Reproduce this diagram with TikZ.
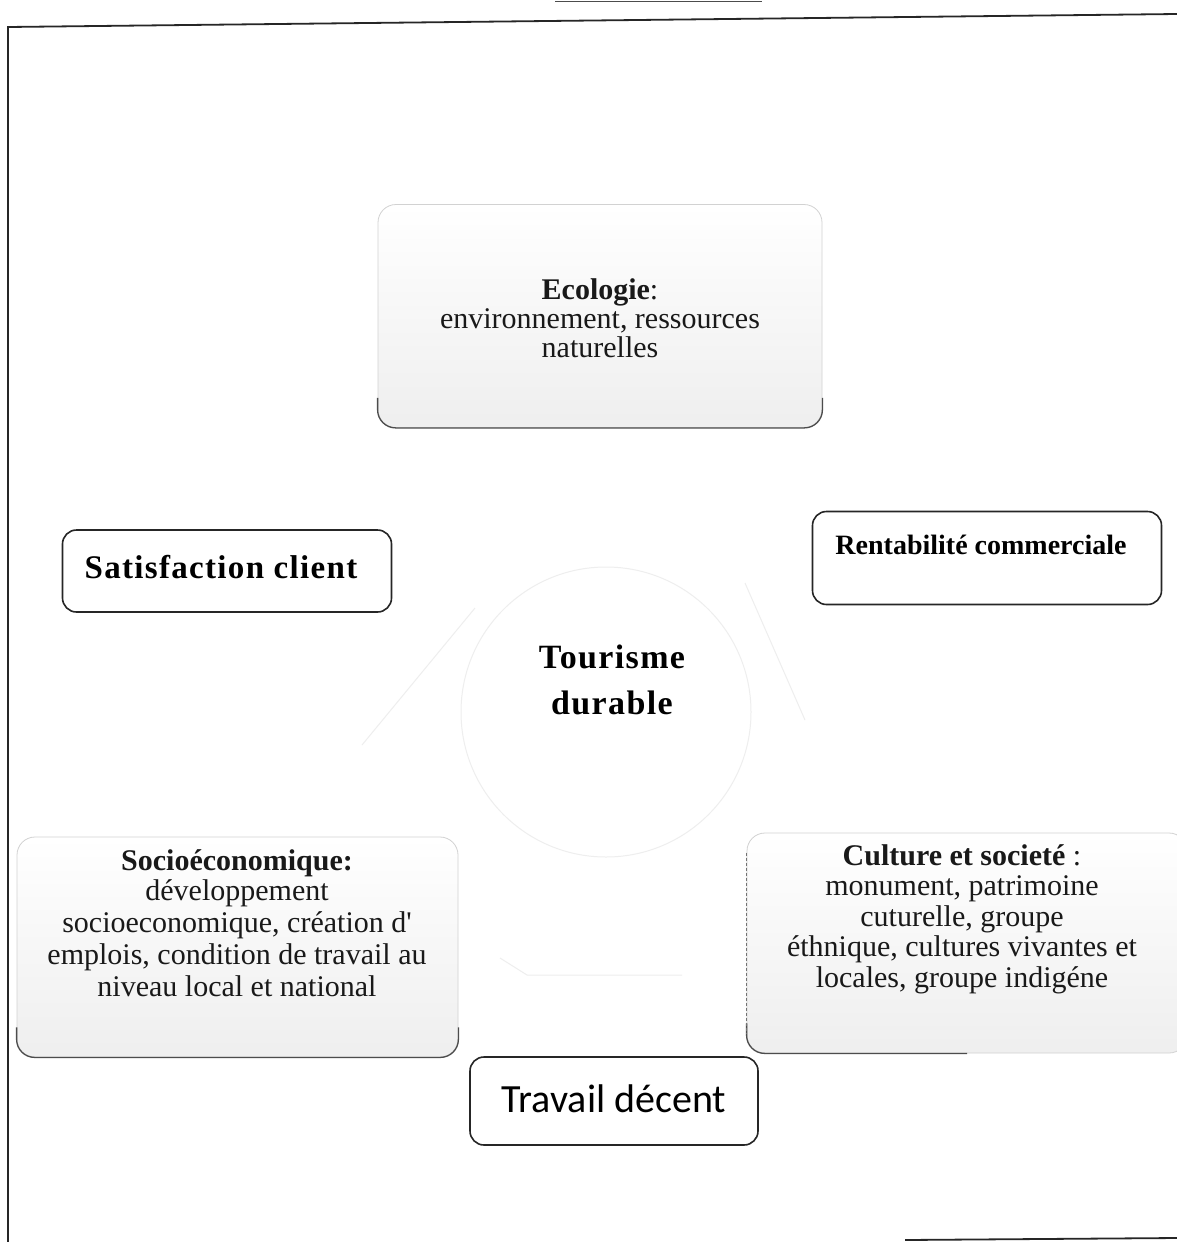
\documentclass[tikz,border=0pt]{standalone}
\usepackage{fontspec}
\setmainfont{Liberation Serif}[Ligatures=TeXOff]
\newfontfamily\calib{Carlito}
\begin{document}
\begin{tikzpicture}[x=1pt,y=-1pt,
  softbox/.style={rounded corners=18pt, draw=gray!35, line width=0.8pt, top color=white, bottom color=gray!13, inner sep=0pt},
  linebox/.style={rounded corners=14pt, draw=black!85, line width=1.6pt, fill=white, inner sep=0pt},
  darkedge/.style={draw=black!70, line width=1.3pt, rounded corners=18pt},
  faint/.style={draw=gray!13, line width=1pt},
  frame/.style={draw=black!85, line width=1.8pt},
  bodytxt/.style={align=center, font=\fontsize{30}{32}\selectfont, text=black!90, inner sep=0pt}]
\useasboundingbox (0,0) rectangle (1177,1242);
\fill[white] (0,0) rectangle (1177,1242);

% page frame
\coordinate (ftl) at (8,27);
\coordinate (ftr) at (1177,14);
\coordinate (fbl) at (8,1242);
\coordinate (fb1) at (905,1240);
\coordinate (fb2) at (1177,1238);
\coordinate (td1) at (555,1);
\coordinate (td2) at (762,1);
\draw[frame] (fbl) -- (ftl) -- (ftr);
\draw[frame] (fb1) -- (fb2);
\draw[draw=black!70, line width=1pt] (td1) -- (td2);

% faint ghost shapes
\node[circle, faint, minimum size=290] (ring) at (606,712) {};
\coordinate (g1) at (475,608);
\coordinate (g2) at (362,745);
\coordinate (g3) at (500,958);
\coordinate (g4) at (527,975);
\coordinate (g5) at (682,975);
\coordinate (g6) at (745,583);
\coordinate (g7) at (805,720);
\draw[faint] (g1) -- (g2);
\draw[faint] (g3) -- (g4) -- (g5);
\draw[faint] (g6) -- (g7);

% Ecologie
\node[softbox, minimum width=444, minimum height=223] (eco) at (600,316) {};
\draw[darkedge] ([yshift=30]eco.south west) |- (eco.south) -| ([yshift=30]eco.south east);
\node[bodytxt, font=\fontsize{30}{29}\selectfont] (ecot) at (600,318) {\textbf{Ecologie}:\\environnement, ressources\\naturelles};

% Satisfaction client
\node[linebox, minimum width=329, minimum height=82] (sat) at (227,571) {};
\node[font=\fontsize{33}{36}\selectfont\bfseries\addfontfeature{LetterSpace=4}, inner sep=0pt] (satt) at (221,567) {Satisfaction client};

% Rentabilite commerciale
\node[linebox, minimum width=349, minimum height=93] (rent) at (987,558) {};
\node[font=\fontsize{28}{30}\selectfont\bfseries, inner sep=0pt] (rentt) at (981,545) {Rentabilité commerciale};

% centre
\node[font=\fontsize{34}{46}\selectfont\bfseries\addfontfeature{LetterSpace=4}, align=center, inner sep=0pt] (tour) at (612,680) {Tourisme\\durable};

% Socioeconomique
\node[softbox, minimum width=441, minimum height=220] (soc) at (237.5,947) {};
\draw[darkedge] ([yshift=30]soc.south west) |- (soc.south) -| ([yshift=30]soc.south east);
\node[bodytxt] (soct) at (237,923) {\textbf{Socioéconomique:}\\[-2pt]développement\\socioeconomique, création d'\\emplois, condition de travail au\\niveau local et national};

% Culture et societe
\node[softbox, minimum width=440, minimum height=220] (cul) at (967,943) {};
\draw[darkedge] ([yshift=30]cul.south west) |- (cul.south);
\draw[draw=black!55, line width=1pt, dash pattern=on 3pt off 2pt] ([yshift=-20]cul.north west) -- ([yshift=20]cul.south west);
\node[bodytxt, font=\fontsize{30}{30.5}\selectfont] (cult) at (962,919) {\textbf{Culture et societé} :\\monument, patrimoine\\cuturelle, groupe\\éthnique, cultures vivantes et\\locales, groupe indigéne};

% Travail decent
\node[linebox, minimum width=288, minimum height=88] (trav) at (614,1101) {};
\node[font=\fontsize{40}{44}\calib, inner sep=0pt] (travt) at (614,1099) {Travail décent};
\end{tikzpicture}
\end{document}
